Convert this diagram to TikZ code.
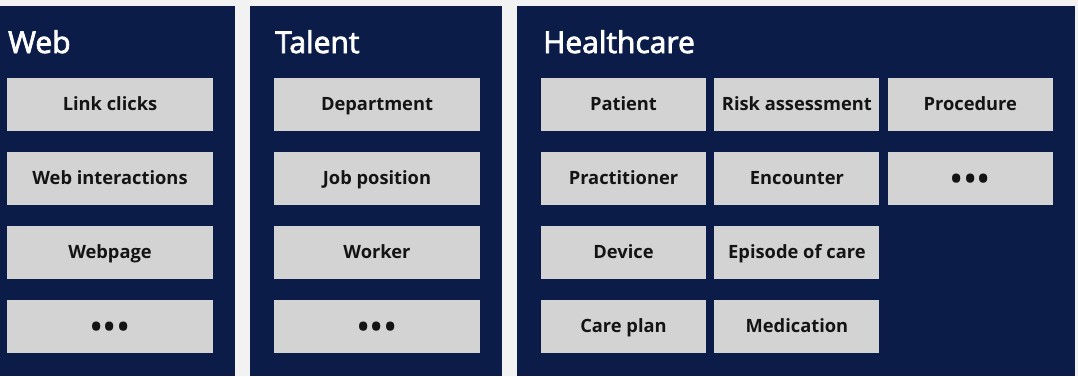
\documentclass[tikz,border=0pt]{standalone}
\usepackage{fontspec}
\setmainfont{Open Sans}
\newfontfamily\titlefont[FakeBold=2.5]{Open Sans}
\usetikzlibrary{positioning}
\definecolor{panelnavy}{RGB}{11,28,72}
\definecolor{boxgrey}{RGB}{211,211,211}
\definecolor{pagegrey}{RGB}{242,242,242}
\tikzset{
  domain panel/.style={
    rectangle, fill=panelnavy, inner sep=0pt, anchor=north west
  },
  domain title/.style={
    text=white, anchor=base west, inner sep=0pt,
    font=\titlefont\fontsize{30}{32}\selectfont
  },
  entity box/.style={
    rectangle, fill=boxgrey, text=black!92, align=center,
    minimum width=206pt, minimum height=52.7pt,
    text height=15pt, text depth=3.8pt,
    inner sep=0pt, font=\bfseries\fontsize{18.3}{20}\selectfont
  },
  narrow box/.style={entity box, minimum width=165pt},
  more box/.style={entity box, text height=28pt, text depth=0pt,
    font=\fontsize{38}{38}\selectfont},
  narrow more box/.style={more box, minimum width=165pt}
}
\newcommand{\moredots}{•\kern-0.5pt•\kern-0.5pt•}

\begin{document}
\begin{tikzpicture}[x=1pt, y=-1pt, node distance=21pt and 8pt]
    \fill[pagegrey] (0,0) rectangle (1078,376);
    \useasboundingbox (0,0) rectangle (1078,376);
    % panels
    \node[domain panel, minimum width=235pt, minimum height=370pt] (web) at (0,6) {};
    \node[domain panel, minimum width=252pt, minimum height=370pt] (talent) at (250,6) {};
    \node[domain panel, minimum width=558pt, minimum height=370pt] (health) at (517,6) {};
    \node[domain title] (webtitle) at (8,53) {Web};
    \node[domain title] (talenttitle) at (275,53) {Talent};
    \node[domain title] (healthtitle) at (543,53) {Healthcare};
    % web
    \node[entity box] (linkclicks) at (110,104.4) {Link clicks};
    \node[entity box, below=of linkclicks] (webinteractions) {Web interactions};
    \node[entity box, below=of webinteractions] (webpage) {Webpage};
    \node[more box, below=of webpage] (webmore) {\moredots};
    % talent
    \node[entity box] (department) at (377,104.4) {Department};
    \node[entity box, below=of department] (jobposition) {Job position};
    \node[entity box, below=of jobposition] (worker) {Worker};
    \node[more box, below=of worker] (talentmore) {\moredots};
    % healthcare
    \node[narrow box] (patient) at (623.5,104.4) {Patient};
    \node[narrow box, right=of patient] (risk) {Risk assessment};
    \node[narrow box, right=of risk] (procedure) {Procedure};
    \node[narrow box, below=of patient] (practitioner) {Practitioner};
    \node[narrow box, right=of practitioner] (encounter) {Encounter};
    \node[narrow more box, right=of encounter] (healthmore) {\moredots};
    \node[narrow box, below=of practitioner] (device) {Device};
    \node[narrow box, right=of device] (episode) {Episode of care};
    \node[narrow box, below=of device] (careplan) {Care plan};
    \node[narrow box, right=of careplan] (medication) {Medication};
\end{tikzpicture}
\end{document}
